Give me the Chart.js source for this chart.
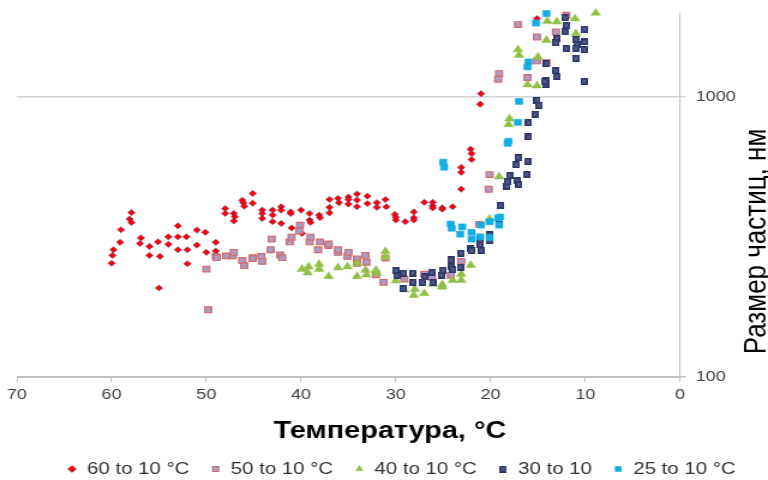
<!DOCTYPE html>
<html><head><meta charset="utf-8">
<script src="https://cdn.jsdelivr.net/npm/chart.js@4/dist/chart.umd.min.js"></script>
<style>html,body{margin:0;padding:0;background:#fff;}canvas{display:block;}</style>
</head><body>
<canvas id="c" width="640" height="480" style="width:768px;height:480px"></canvas>
<script>
// ---- data (temperature °C, particle size nm) ----
const seriesLabels = ['60 to 10 °C', '50 to 10 °C', '40 to 10 °C', '30 to 10', '25 to 10 °C'];

const t60 = [60.0,59.9,59.8,59.1,59.0,58.1,57.9,57.9,57.0,56.9,
  56.0,56.0,55.1,54.9,55.0,54.0,54.0,53.0,53.0,53.0,
  52.1,52.0,52.0,51.0,51.0,50.1,50.0,49.0,49.0,48.0,
  48.0,47.1,47.0,47.1,46.2,46.1,46.0,45.1,45.1,44.1,
  44.1,44.1,43.0,43.0,43.0,42.1,42.1,42.1,41.1,41.1,
  41.0,40.0,39.9,39.1,39.1,39.0,38.1,38.0,37.0,37.0,
  37.0,36.1,36.0,35.0,35.0,35.0,34.1,34.1,34.1,33.0,
  33.0,32.0,32.0,31.1,31.0,30.1,30.0,30.0,29.0,28.1,
  28.1,28.1,27.0,26.1,26.1,26.1,25.1,25.1,24.0,23.1,
  23.1,23.1,22.1,22.0,22.0,21.1,21.0,15.1];
const s60 = [255,272,285,303,336,367,387,357,300,314,
  293,272,304,270,208,317,298,317,285,347,
  317,285,254,335,296,329,279,303,282,400,
  384,384,374,361,428,420,408,453,418,395,
  384,369,395,379,359,406,395,354,389,384,
  341,395,326,384,364,357,379,371,431,404,
  386,435,420,440,431,415,451,429,406,443,
  417,420,404,431,406,381,372,364,359,389,
  371,364,421,421,409,402,402,398,406,469,
  561,539,652,629,599,944,1030,1910];

const t50 = [50.0,49.8,49.0,48.9,47.9,47.2,47.1,46.2,46.0,45.1,
  45.1,44.2,44.1,43.1,43.2,42.2,42.0,41.2,41.0,40.1,
  40.2,39.1,39.0,38.2,38.0,37.1,37.1,36.1,36.1,35.1,
  35.0,34.1,34.1,33.2,33.1,32.1,31.3,31.1,29.1,27.0,
  26.2,24.2,23.1,21.2,20.2,20.1,19.2,19.1,17.1,16.1,
  15.1,15.1,14.1,13.1,12.0];
const s50 = [243,174,270,267,271,271,279,261,250,267,
  265,270,259,311,285,273,267,304,316,349,
  333,304,316,285,304,295,299,279,285,270,
  279,264,255,272,257,232,218,266,224,233,
  227,231,259,351,469,529,1159,1215,1818,1176,
  1642,1348,1330,1711,1963];

const t40 = [39.9,39.2,39.3,38.1,38.1,37.1,36.1,35.1,34.1,34.1,
  33.2,33.1,32.1,32.0,31.1,31.1,30.0,29.1,28.1,28.0,
  27.0,26.1,25.1,25.1,24.0,23.1,23.1,22.1,20.1,19.1,
  18.0,18.1,17.1,17.0,16.1,15.1,15.0,14.1,14.0,13.0,
  11.1,11.0,8.9];
const s40 = [243,248,236,253,243,229,246,248,255,229,
  241,232,241,235,281,268,221,205,196,206,
  199,215,214,210,222,222,233,251,367,520,
  838,799,1481,1413,1109,1099,1393,1599,1868,1862,
  1910,1689,2000];

const t30 = [30.0,29.9,29.2,29.2,28.2,28.2,27.2,27.0,26.2,26.1,
  25.2,25.0,24.2,24.1,24.0,23.2,23.1,22.1,22.0,21.1,
  21.0,21.1,20.1,20.1,19.1,19.0,18.3,18.2,18.0,17.2,
  17.0,17.3,17.1,16.1,16.2,16.0,16.0,15.3,15.1,14.9,
  14.1,14.1,14.3,14.1,13.1,13.0,13.0,13.1,12.1,12.0,
  12.1,12.0,11.0,10.9,11.0,11.0,10.1,10.1,10.1,10.1];
const s30 = [240,230,235,207,235,218,218,228,236,218,
  231,241,262,248,242,247,277,288,283,297,
  284,309,307,323,351,411,479,499,525,502,
  487,574,609,591,531,721,810,869,976,936,
  1113,1145,1136,1320,1241,1188,1621,1563,1923,1808,
  1711,1493,1607,1543,1493,1373,1750,1576,1480,1140];

const t25 = [25.0,24.9,24.2,24.1,23.2,23.0,22.0,22.0,21.1,21.0,
  20.1,20.1,19.1,19.2,19.0,18.1,18.2,17.1,17.0,16.0,
  16.1,15.2,14.1];
const s25 = [586,562,352,340,324,344,311,329,317,349,
  315,359,349,370,373,696,684,813,966,1337,
  1283,1842,1991];

const xTickValues = [70, 60, 50, 40, 30, 20, 10, 0];
const yTickLabels = [100, 1000];
const xTitle = 'Температура, °C';
const yTitle = 'Размер частиц, нм';

// ---- helpers ----
function pts(t, s) { return t.map((v, i) => ({ x: v, y: s[i] })); }

// dark-blue square marker with light cross (as in the original)
const navyMarker = document.createElement('canvas');
navyMarker.width = 6; navyMarker.height = 7;
(function () {
  const g = navyMarker.getContext('2d');
  g.fillStyle = '#2c3767'; g.fillRect(0, 0, 6, 7);
  g.strokeStyle = '#7a83ad'; g.lineWidth = 0.8;
  g.beginPath(); g.moveTo(1.2, 1.4); g.lineTo(4.8, 5.6); g.moveTo(4.8, 1.4); g.lineTo(1.2, 5.6); g.stroke();
})();

const axisTitles = {
  id: 'axisTitles',
  afterDraw(chart, args, o) {
    const ctx = chart.ctx;
    ctx.save();
    ctx.fillStyle = o.color;
    ctx.textAlign = 'center';
    ctx.textBaseline = 'middle';
    ctx.font = o.x.font;
    ctx.fillText(o.x.text, o.x.cx, o.x.cy);
    ctx.translate(o.y.cx, o.y.cy);
    ctx.rotate(-Math.PI / 2);
    ctx.textBaseline = 'alphabetic';
    ctx.font = o.y.font;
    ctx.fillText(o.y.text, 0, 0);
    ctx.restore();
  }
};

const legendPlace = {
  id: 'legendPlace',
  afterLayout(chart, args, o) {
    const lg = chart.legend;
    if (!lg) return;
    const w = lg.right - lg.left, h = lg.bottom - lg.top;
    lg.left = o.cx - w / 2; lg.right = lg.left + w;
    lg.top = o.top; lg.bottom = o.top + h;
  }
};

const tickFont = { family: '"Liberation Sans", Arial, sans-serif', size: 15 };
const AXIS = '#bfbfbf';

new Chart(document.getElementById('c'), {
  type: 'scatter',
  data: {
    datasets: [
      { label: seriesLabels[0], data: pts(t60, s60), order: 5, pointStyle: 'rectRot', pointRadius: 3.1,
        backgroundColor: '#ff0000', borderColor: 'rgba(70,60,140,0.7)', borderWidth: 0.7, clip: false },
      { label: seriesLabels[1], data: pts(t50, s50), order: 4, pointStyle: 'rect', pointRadius: 4,
        backgroundColor: '#a99cc8', borderColor: '#d46a6a', borderWidth: 1.2, clip: false },
      { label: seriesLabels[2], data: pts(t40, s40), order: 3, pointStyle: 'triangle', pointRadius: 4.6,
        backgroundColor: '#92c046', borderColor: '#92c046', borderWidth: 0.5, clip: false },
      { label: seriesLabels[3], data: pts(t30, s30), order: 2, pointStyle: navyMarker, pointRadius: 4,
        backgroundColor: '#2c3767', borderColor: '#2c3767', borderWidth: 0, clip: false },
      { label: seriesLabels[4], data: pts(t25, s25), order: 1, pointStyle: 'rect', pointRadius: 4.2,
        backgroundColor: '#14ade4', borderColor: '#14ade4', borderWidth: 0.6, clip: false }
    ]
  },
  options: {
    responsive: false,
    devicePixelRatio: 1,
    animation: false,
    events: [],
    layout: { padding: { left: 14, right: 0, top: 13, bottom: 0 } },
    scales: {
      x: {
        type: 'linear', reverse: true, min: 0, max: 70,
        afterBuildTicks: (s) => { s.ticks = xTickValues.map(v => ({ value: v })); },
        afterFit: (s) => { s.height = s.chart.height - 377 - (s.chart.legend ? s.chart.legend.height : 0); },
        ticks: { font: tickFont, color: '#404040', padding: 4, maxRotation: 0, autoSkip: false },
        grid: { drawOnChartArea: false, drawTicks: true, tickLength: 5, color: AXIS, lineWidth: 1 },
        border: { display: true, color: AXIS, width: 1 },
        title: { display: false }
      },
      y: {
        type: 'logarithmic', position: 'right', min: 100, max: 2000,
        afterFit: (s) => { s.width = 73.3; s.paddingTop = 0; s.paddingBottom = 0; },
        ticks: {
          font: tickFont, color: '#404040', padding: 8, autoSkip: false,
          callback: (v) => yTickLabels.includes(v) ? String(v) : ''
        },
        grid: {
          drawTicks: true, tickLength: 5, lineWidth: 1.5,
          color: (c) => c.tick && c.tick.value === 1000 ? '#d4d4d4' : (c.tick && c.tick.value === 100 ? AXIS : 'rgba(0,0,0,0)')
        },
        border: { display: true, color: AXIS, width: 1 },
        title: { display: false }
      }
    },
    plugins: {
      tooltip: { enabled: false },
      legend: {
        display: true, position: 'bottom',
        labels: {
          usePointStyle: true, boxWidth: 8, boxHeight: 5, padding: 18,
          font: { family: '"Liberation Sans", Arial, sans-serif', size: 17 }, color: '#333333',
          sort: (a, b) => a.datasetIndex - b.datasetIndex
        }
      },
      legendPlace: { cx: 334.5, top: 442.5 },
      axisTitles: {
        color: '#000000',
        x: { text: xTitle, font: 'bold 24px "Liberation Sans", Arial, sans-serif', cx: 325, cy: 431 },
        y: { text: yTitle, font: '26px "Liberation Sans", Arial, sans-serif', cx: 638, cy: 241.5 }
      }
    }
  },
  plugins: [legendPlace, axisTitles]
});
</script>
</body></html>
